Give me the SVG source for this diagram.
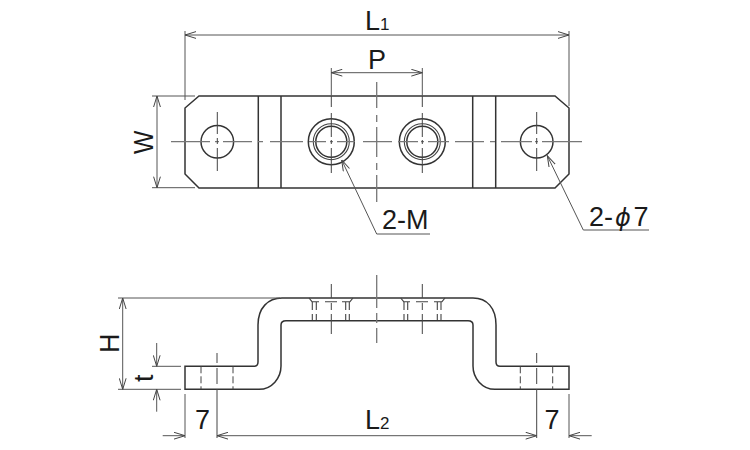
<svg xmlns="http://www.w3.org/2000/svg" width="750" height="450" viewBox="0 0 750 450">
<style>
text{font-family:"Liberation Sans",Arial,sans-serif;font-size:27px;fill:#1a1a1a}
.sub{font-size:17px}
.o{fill:none;stroke:#333;stroke-width:1.5}
.o2{fill:none;stroke:#444;stroke-width:1.1}
.d{fill:none;stroke:#555;stroke-width:1}
.c{fill:none;stroke:#777;stroke-width:1.3}
.k{fill:none;stroke:#444;stroke-width:1}
.hid{fill:none;stroke:#444;stroke-width:1;stroke-dasharray:7 3}
</style>
<defs>
<marker id="a" viewBox="0 0 12 8" refX="11.5" refY="4" markerWidth="12" markerHeight="8" markerUnits="userSpaceOnUse" orient="auto-start-reverse"><path d="M0.5 0.6L11.5 4L0.5 7.4" fill="none" stroke="#444" stroke-width="1"/></marker>
</defs>
<g id="top-view">
<path class="o" d="M199 96H555L569 108V174L555 188H199L185 174V108Z"/>
<path class="o" d="M258.3 96V188M281 96V188M472.7 96V188M495.7 96V188"/>
<circle class="o" cx="217.3" cy="141.7" r="16.3"/>
<circle class="o" cx="536.7" cy="141.7" r="16.3"/>
<circle class="o" cx="331.3" cy="141.7" r="23"/>
<circle class="o2" cx="331.3" cy="141.7" r="18"/>
<circle class="o" cx="331.3" cy="141.7" r="15.5"/>
<circle class="o" cx="422.3" cy="141.7" r="23"/>
<circle class="o2" cx="422.3" cy="141.7" r="18"/>
<circle class="o" cx="422.3" cy="141.7" r="15.5"/>
<path class="c" d="M171 141.7H210M215 141.7H219M223 141.7H252M258 141.7H263M270 141.7H303M309 141.7H326M330 141.7H333M337 141.7H355M363 141.7H392M398 141.7H418M421 141.7H424M428 141.7H449M455 141.7H484M490 141.7H495M501 141.7H532M535 141.7H538M542 141.7H582"/>
<path class="k" d="M217.3 112V134M217.3 138V144M217.3 148V171M536.7 112V134M536.7 138V144M536.7 148V171M331.3 96V107M331.3 113V137M331.3 140V144M331.3 148V173M422.3 96V107M422.3 113V137M422.3 140V144M422.3 148V173"/>
<path class="c" d="M376.7 82V108M376.7 115V122M376.7 127V157M376.7 163V170M376.7 175V202"/>
</g>
<g id="side-view">
<path class="o" d="M185 366.3H254Q258 366.3 258 362V325C258 308 268 298 282 298H473C487 298 496 308 496 325V362Q496 366.3 500 366.3H569V389.3H495C482 389.3 473 378 473 366V325Q473 320.7 468 320.7H286Q281 320.7 281 325V366C281 378 272 389.3 259 389.3H185Z"/>
<path class="hid" d="M201 366.3V389.3M233 366.3V389.3M520.3 366.3V389.3M552.7 366.3V389.3"/>
<path class="k" d="M217 353V363M217 368V384M217 389V438M536.7 353V363M536.7 368V384M536.7 389V438"/>
<path class="c" d="M376.7 275V308M376.7 313V323M376.7 328V343"/>
<path class="k" d="M331.3 284V298M331.3 303V310M331.3 314V334M422.3 284V298M422.3 303V310M422.3 314V334"/>
<path class="o2" d="M309 298L312 301.7H319M342 301.7H350L353 298M400.7 298L403.7 301.7H410M434 301.7H442L445 298M325 301.7H337M416 301.7H428"/>
<path class="o2" d="M312.3 302V310M316.3 302V310M312.3 314V320M316.3 314V320M345.7 302V310M349.3 302V310M345.7 314V320M349.3 314V320M404 302V310M407.7 302V310M404 314V320M407.7 314V320M437.3 302V310M441 302V310M437.3 314V320M441 314V320"/>
</g>
<g id="connectors">
<path class="d" d="M185 31V100M569 31V106M331.3 68V96M422.3 68V96M152 96H195M152 187.7H195M118 298H280M118 389.3H181M152 366.3H181M185 394V438M569 394V438"/>
<path class="d" marker-start="url(#a)" marker-end="url(#a)" d="M185 35H569"/>
<path class="d" marker-start="url(#a)" marker-end="url(#a)" d="M331.3 72.7H422.3"/>
<path class="d" marker-start="url(#a)" marker-end="url(#a)" d="M157 96V187.7"/>
<path class="d" marker-start="url(#a)" marker-end="url(#a)" d="M122.7 298V389.3"/>
<path class="d" marker-end="url(#a)" d="M156.7 343V366.3"/>
<path class="d" marker-end="url(#a)" d="M156.7 411.7V389.3"/>
<path class="d" marker-end="url(#a)" d="M162.7 435.7H185"/>
<path class="d" marker-start="url(#a)" marker-end="url(#a)" d="M217 435.7H536.7"/>
<path class="d" marker-end="url(#a)" d="M591.7 435.7H569"/>
<path class="d" marker-start="url(#a)" d="M341.7 160L376.7 234H430"/>
<path class="d" marker-start="url(#a)" d="M547.3 155.7L583.3 230H649"/>
</g>
<g id="labels">
<text x="365" y="30">L<tspan class="sub">1</tspan></text>
<text x="368" y="69">P</text>
<text transform="translate(153 154) rotate(-90) scale(.92 1)">W</text>
<text x="382" y="229">2-M</text>
<text x="589" y="225.5">2-<tspan x="615" font-style="italic" style="font-family:'DejaVu Sans',sans-serif;font-size:24px">ϕ</tspan><tspan x="633.5">7</tspan></text>
<text transform="translate(119 353) rotate(-90)">H</text>
<text transform="translate(153 382) rotate(-90)">t</text>
<text x="195" y="429">7</text>
<text x="365" y="429">L<tspan class="sub">2</tspan></text>
<text x="544.5" y="429">7</text>
</g>
</svg>
